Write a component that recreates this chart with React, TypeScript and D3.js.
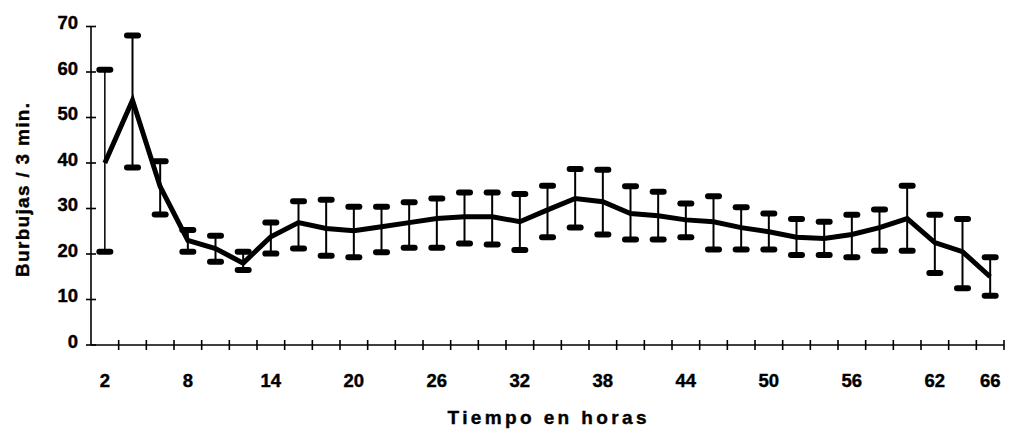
import React, { useEffect, useRef } from 'react';
import * as d3 from 'd3';

// hours sampled every 2 h
const hours = [2, 4, 6, 8, 10, 12, 14, 16, 18, 20, 22, 24, 26, 28, 30, 32, 34, 36, 38, 40, 42, 44, 46, 48, 50, 52, 54, 56, 58, 60, 62, 64, 66];
const meanValues = [40, 53.8, 34.8, 23, 21.2, 18, 23.8, 26.9, 25.6, 25.1, 26, 26.9, 27.8, 28.2, 28.2, 27.1, 29.7, 32.2, 31.5, 28.9, 28.4, 27.5, 27.1, 25.8, 24.9, 23.7, 23.4, 24.3, 25.8, 27.8, 22.5, 20.5, 15];
const upperValues = [60.5, 68, 40.4, 25.3, 24, 20.5, 26.9, 31.6, 31.9, 30.4, 30.4, 31.4, 32.2, 33.5, 33.5, 33.2, 35, 38.7, 38.5, 34.9, 33.7, 31.1, 32.7, 30.3, 28.9, 27.7, 27.1, 28.6, 29.8, 35, 28.6, 27.7, 19.3];
const lowerValues = [20.5, 39, 28.7, 20.5, 18.3, 16.5, 20.1, 21.2, 19.6, 19.3, 20.4, 21.4, 21.4, 22.3, 22.1, 20.9, 23.7, 25.8, 24.3, 23.2, 23.2, 23.7, 21, 21, 21, 19.8, 19.8, 19.3, 20.7, 20.7, 15.8, 12.5, 10.8];
const xTickLabels = [2, 8, 14, 20, 26, 32, 38, 44, 50, 56, 62, 66];
const yTicks = [0, 10, 20, 30, 40, 50, 60, 70];

const App = () => {
    const ref = useRef<SVGSVGElement>(null);

    useEffect(() => {
        const svg = d3.select(ref.current);
        svg.selectAll('*').remove();

        const left = 91, right = 1004, top = 26.5, bottom = 345;
        const font = "'Liberation Sans', Arial, sans-serif";

        const x = d3.scaleBand<number>()
            .domain(hours)
            .range([left, right])
            .padding(0);
        const cx = (h: number) => (x(h) as number) + x.bandwidth() / 2;

        const y = d3.scaleLinear()
            .domain([0, 70])
            .range([bottom, top]);

        // bold scanned-looking text
        const boldText = (sel: any, size: number) => sel
            .attr('font-family', font)
            .attr('font-weight', 'bold')
            .attr('font-size', size)
            .attr('stroke', '#000')
            .attr('stroke-width', 0.4);

        // axes
        svg.append('line')
            .attr('x1', left).attr('x2', left)
            .attr('y1', y(70)).attr('y2', y(0))
            .attr('stroke', '#000').attr('stroke-width', 1.6);
        svg.append('line')
            .attr('x1', left).attr('x2', right)
            .attr('y1', y(0)).attr('y2', y(0))
            .attr('stroke', '#000').attr('stroke-width', 1.6);

        // y ticks cross the axis
        svg.selectAll('.ytick')
            .data(yTicks)
            .enter()
            .append('line')
            .attr('x1', left - 5).attr('x2', left + 5)
            .attr('y1', (d) => y(d)).attr('y2', (d) => y(d))
            .attr('stroke', '#000').attr('stroke-width', 1.6);

        boldText(svg.selectAll('.ylabel')
            .data(yTicks)
            .enter()
            .append('text')
            .attr('x', left - 13)
            .attr('y', (d) => y(d) - 2)
            .attr('text-anchor', 'end')
            .attr('dominant-baseline', 'middle'), 18.5)
            .text((d: number) => d);

        // x ticks at band edges
        const edges = hours.map((h) => x(h) as number).concat([right]);
        svg.selectAll('.xtick')
            .data(edges.slice(1))
            .enter()
            .append('line')
            .attr('x1', (d) => d).attr('x2', (d) => d)
            .attr('y1', y(0) - 5).attr('y2', y(0) + 5)
            .attr('stroke', '#000').attr('stroke-width', 1.6);

        boldText(svg.selectAll('.xlabel')
            .data(xTickLabels)
            .enter()
            .append('text')
            .attr('x', (d) => cx(d))
            .attr('y', 387)
            .attr('text-anchor', 'middle'), 18.5)
            .text((d: number) => d);

        // error bars
        const bars = svg.append('g');
        hours.forEach((h, i) => {
            bars.append('line')
                .attr('x1', cx(h)).attr('x2', cx(h))
                .attr('y1', y(upperValues[i])).attr('y2', y(lowerValues[i]))
                .attr('stroke', '#000').attr('stroke-width', i === 0 ? 1.5 : 2);
            [upperValues[i], lowerValues[i]].forEach((v) => {
                bars.append('rect')
                    .attr('x', cx(h) - 8.5)
                    .attr('y', y(v) - 3)
                    .attr('width', 17)
                    .attr('height', 6)
                    .attr('rx', 3)
                    .attr('fill', '#000');
            });
        });

        // mean line
        const line = d3.line<number>()
            .x((d, i) => cx(hours[i]))
            .y((d) => y(d));
        svg.append('path')
            .datum(meanValues)
            .attr('d', line)
            .attr('fill', 'none')
            .attr('stroke', '#000')
            .attr('stroke-width', 5)
            .attr('stroke-linejoin', 'miter');

        // axis titles
        boldText(svg.append('text')
            .attr('x', 547)
            .attr('y', 424)
            .attr('text-anchor', 'middle')
            .attr('textLength', 199)
            .attr('lengthAdjust', 'spacing'), 19)
            .text('Tiempo en horas');

        boldText(svg.append('text')
            .attr('transform', 'translate(29, 190) rotate(-90)')
            .attr('text-anchor', 'middle')
            .attr('textLength', 174)
            .attr('lengthAdjust', 'spacing'), 19)
            .text('Burbujas / 3 min.');
    }, []);

    return (
        <svg ref={ref} width={1015} height={431}
             style={{position: 'absolute', left: 0, top: 0, background: '#fff'}} />
    );
};

export default App;
